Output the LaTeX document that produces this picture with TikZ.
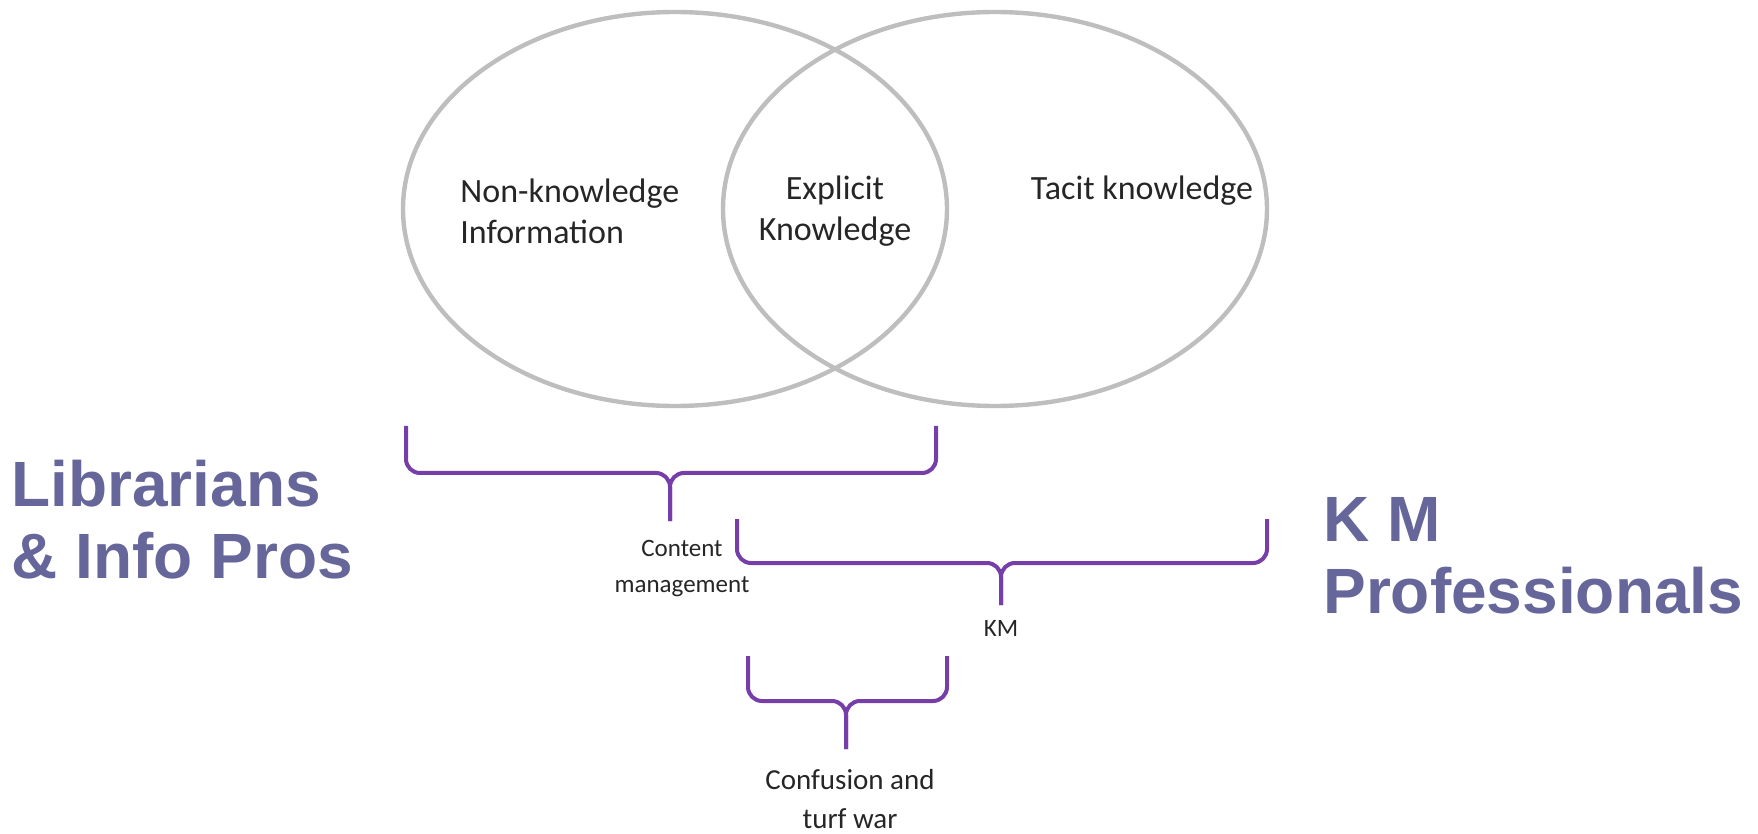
\documentclass[tikz,border=0pt]{standalone}
\usepackage{fontspec}
\usepackage{tikz}
\usepackage{xcolor}
\setmainfont{Carlito}
\newfontfamily\headfont{Liberation Sans}
\definecolor{ringgray}{RGB}{190,190,190}
\definecolor{bracepurple}{RGB}{118,62,168}
\definecolor{headblue}{RGB}{102,102,154}
\usetikzlibrary{shapes.geometric}

\begin{document}
\begin{tikzpicture}[x=0.5pt,y=-0.5pt,
  ring/.style={draw=ringgray,line width=2.2pt,ellipse,minimum width=272pt,minimum height=197pt,inner sep=0pt},
  lbl/.style={font=\fontsize{17}{20.5}\selectfont,text=black!85,inner sep=0pt},
  small/.style={lbl,font=\fontsize{12.5}{18}\selectfont},
  head/.style={font=\headfont\bfseries\fontsize{32}{36}\selectfont,text=headblue,inner sep=0pt,align=left,anchor=west},
  kmbrace/.style={draw=bracepurple,line width=2pt,rounded corners=7pt}]
\useasboundingbox (0,0) rectangle (1758,834);
\node[ring] (nonk) at (675,209) {};
\node[ring] (tacit) at (995,209) {};
\node[lbl,align=left,anchor=west] (info) at (460,211) {Non-knowledge\\Information};
\node[lbl,align=center] (expl) at (835,211) {Explicit\\Knowledge};
\node[lbl] (tac) at (1142,191) {Tacit knowledge};
% content management brace
\coordinate (cmL) at (406,426);
\coordinate (cmR) at (936,426);
\coordinate (cmM) at (670,473);
\coordinate (cmT) at (670,521);
\draw[kmbrace] (cmL) |- (cmM) -- (cmT);
\draw[kmbrace] (cmT) -- (cmM) -| (cmR);
\node[small,align=center] (cm) at (682,569) {Content\\management};
% KM brace
\coordinate (kmL) at (737,519);
\coordinate (kmR) at (1267,519);
\coordinate (kmM) at (1001,563);
\coordinate (kmT) at (1001,605);
\draw[kmbrace] (kmL) |- (kmM) -- (kmT);
\draw[kmbrace] (kmT) -- (kmM) -| (kmR);
\node[small] (km) at (1001,628) {KM};
% overlap brace
\coordinate (cfL) at (748,656);
\coordinate (cfR) at (947,656);
\coordinate (cfM) at (846,701);
\coordinate (cfT) at (846,749);
\draw[kmbrace] (cfL) |- (cfM) -- (cfT);
\draw[kmbrace] (cfT) -- (cfM) -| (cfR);
\node[lbl,align=center,font=\fontsize{14.5}{19.5}\selectfont] (turf) at (850,799) {Confusion and\\turf war};
\node[head] (libr) at (11,520) {Librarians\\\& Info Pros};
\node[head] (kmpro) at (1323,556) {K M\\Professionals};
\end{tikzpicture}
\end{document}
